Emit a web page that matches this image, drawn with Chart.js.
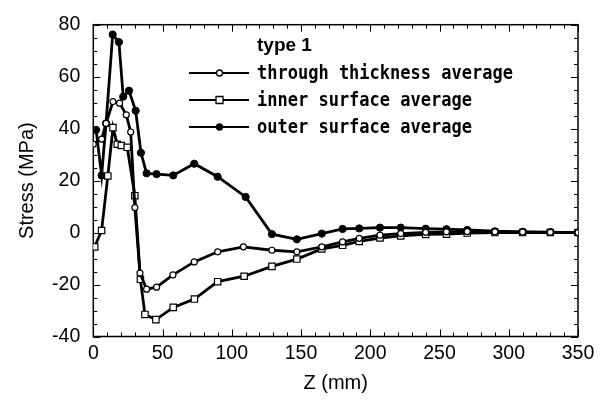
<!DOCTYPE html>
<html>
<head>
<meta charset="utf-8">
<script src="https://cdn.jsdelivr.net/npm/chart.js@4.4.1/dist/chart.umd.min.js"></script>
<style>
  html, body { margin: 0; padding: 0; background: #fff; }
  #wrap { width: 609px; height: 401px; }
</style>
</head>
<body>
<div id="wrap"><canvas id="c" width="609" height="401"></canvas></div>
<script>
// Axial position along the part (mm) and averaged residual stress (MPa)
const zThrough = [0, 6, 9.2, 14.2, 19, 23.8, 27, 30, 33.7, 38.5, 45.7, 57.5, 72.9, 89.8, 108.4, 129, 147, 165, 180, 192, 207, 222, 240, 255, 270, 290, 310, 330, 350];
const through  = [34, 36, 42, 50.4, 49.8, 45.3, 38.7, 9.6, -15.6, -21.8, -21, -16.3, -11.3, -7.4, -5.5, -6.8, -7.4, -5.5, -3.6, -2.2, -1, -0.4, 0.1, 0.3, 0.4, 0.3, 0.2, 0.1, 0];

const zInner = [1, 6, 10.5, 14.2, 17.3, 20.2, 24.5, 30, 34, 37.3, 45.2, 57.7, 73, 89.8, 108.9, 129, 147, 165, 180, 192, 207, 222, 240, 255, 270, 290, 310, 330, 350];
const inner  = [-5.5, 0.8, 21.8, 40.4, 34, 33.5, 32.8, 14.2, -18, -31.5, -33.5, -28.8, -25.6, -18.9, -16.8, -13, -10.2, -6.3, -4.9, -3.4, -2.1, -1.3, -0.7, -0.6, -0.2, 0, 0, 0, 0];

const zOuter = [2, 6, 9.2, 14, 18.5, 21.6, 25.8, 30.6, 34.4, 38.5, 45.7, 57.7, 72.9, 89.8, 110, 129, 147, 165, 180, 192, 207, 222, 240, 255, 270, 290, 310, 330, 350];
const outer  = [39.5, 22, 42, 76.2, 73.3, 52.3, 54.6, 46.9, 30.7, 22.8, 22.5, 22, 26.5, 21.5, 13.7, -0.6, -2.6, -0.4, 1.4, 1.6, 1.9, 1.9, 1.5, 1.3, 1.0, 0.5, 0.3, 0.2, 0];

const seriesNames = ['through thickness average', 'inner surface average', 'outer surface average'];
const legendTitle = 'type 1';
const xTitle = 'Z (mm)';
const yTitle = 'Stress (MPa)';

const pts = (xs, ys) => xs.map((x, i) => ({ x, y: ys[i] }));

// Boxed frame with inward-pointing major/minor ticks on all four sides
const framePlugin = {
  id: 'frame',
  beforeDatasetsDraw(chart) {
    const { ctx, chartArea: a, scales: { x, y } } = chart;
    ctx.save();
    ctx.strokeStyle = '#000';
    ctx.lineWidth = 1.5;
    ctx.strokeRect(a.left, a.top, a.right - a.left, a.bottom - a.top);
    ctx.lineWidth = 1;
    ctx.beginPath();
    for (let v = 0; v <= 350; v += 10) {
      const px = Math.round(x.getPixelForValue(v)) + 0.5;
      const len = v % 50 === 0 ? 7 : 4;
      ctx.moveTo(px, a.bottom); ctx.lineTo(px, a.bottom - len);
      ctx.moveTo(px, a.top); ctx.lineTo(px, a.top + len);
    }
    for (let v = -40; v <= 80; v += 5) {
      const py = Math.round(y.getPixelForValue(v)) + 0.5;
      const len = v % 20 === 0 ? 7 : 4;
      ctx.moveTo(a.left, py); ctx.lineTo(a.left + len, py);
      ctx.moveTo(a.right, py); ctx.lineTo(a.right - len, py);
    }
    ctx.stroke();
    ctx.restore();
  }
};

// Legend block in the upper middle of the plot
const legendPlugin = {
  id: 'typeLegend',
  afterDatasetsDraw(chart) {
    const { ctx } = chart;
    ctx.save();
    ctx.fillStyle = '#000';
    ctx.textBaseline = 'middle';
    ctx.textAlign = 'left';
    ctx.font = 'bold 19px "Liberation Sans", Arial, sans-serif';
    ctx.fillText(legendTitle, 257, 46);
    const rows = [73, 100, 127];
    chart.data.datasets.forEach((ds, i) => {
      const yy = rows[i];
      ctx.strokeStyle = '#000';
      ctx.lineWidth = 2;
      ctx.beginPath();
      ctx.moveTo(189, yy); ctx.lineTo(249, yy);
      ctx.stroke();
      ctx.lineWidth = 1.3;
      ctx.beginPath();
      if (ds.pointStyle === 'rect') {
        ctx.fillStyle = '#fff';
        ctx.rect(216, yy - 3.5, 7, 7);
        ctx.fill(); ctx.stroke();
      } else {
        ctx.arc(219.5, yy, 3, 0, Math.PI * 2);
        ctx.fillStyle = ds.pointBackgroundColor;
        ctx.fill(); ctx.stroke();
      }
      // condensed, slightly tall monospace lettering
      ctx.save();
      ctx.translate(257, yy + 1);
      ctx.scale(1, 1.18);
      ctx.fillStyle = '#000';
      ctx.font = 'bold 17px "DejaVu Sans Mono", monospace';
      ctx.fillText(ds.label, 0, 0);
      ctx.restore();
    });
    ctx.restore();
  }
};

const tickFont = { family: '"Liberation Sans", Arial, sans-serif', size: 19.5 };
const titleFont = { family: '"Liberation Sans", Arial, sans-serif', size: 20 };

new Chart(document.getElementById('c'), {
  type: 'scatter',
  data: {
    datasets: [
      {
        label: seriesNames[0],
        data: pts(zThrough, through),
        showLine: true,
        borderColor: '#000',
        borderWidth: 2.8,
        pointStyle: 'circle',
        pointRadius: 3,
        pointBorderWidth: 1.2,
        pointBackgroundColor: '#fff',
        pointBorderColor: '#000'
      },
      {
        label: seriesNames[1],
        data: pts(zInner, inner),
        showLine: true,
        borderColor: '#000',
        borderWidth: 2.8,
        pointStyle: 'rect',
        pointRadius: 4.5,
        pointBorderWidth: 1.2,
        pointBackgroundColor: '#fff',
        pointBorderColor: '#000'
      },
      {
        label: seriesNames[2],
        data: pts(zOuter, outer),
        showLine: true,
        borderColor: '#000',
        borderWidth: 2.8,
        pointStyle: 'circle',
        pointRadius: 3.6,
        pointBorderWidth: 1,
        pointBackgroundColor: '#000',
        pointBorderColor: '#000'
      }
    ]
  },
  options: {
    responsive: false,
    animation: false,
    devicePixelRatio: 1,
    layout: { padding: { top: 18.3, right: 31, left: 0, bottom: 0 } },
    plugins: { legend: { display: false }, tooltip: { enabled: false } },
    scales: {
      x: {
        type: 'linear', min: 0, max: 350,
        grid: { display: false, drawTicks: false },
        border: { display: false },
        ticks: { stepSize: 50, color: '#000', font: tickFont, padding: 5, maxRotation: 0 },
        title: { display: true, text: xTitle, color: '#000', font: titleFont, padding: { top: 0, bottom: 6 } },
        afterFit(s) { s.height = 64.5; }
      },
      y: {
        type: 'linear', min: -40, max: 80,
        grid: { display: false, drawTicks: false },
        border: { display: false },
        ticks: { stepSize: 20, color: '#000', font: tickFont, padding: 13 },
        title: { display: true, text: yTitle, color: '#000', font: titleFont, padding: { top: 15, bottom: 0 } },
        afterFit(s) { s.width = 93.3; }
      }
    }
  },
  plugins: [framePlugin, legendPlugin]
});
</script>
</body>
</html>
